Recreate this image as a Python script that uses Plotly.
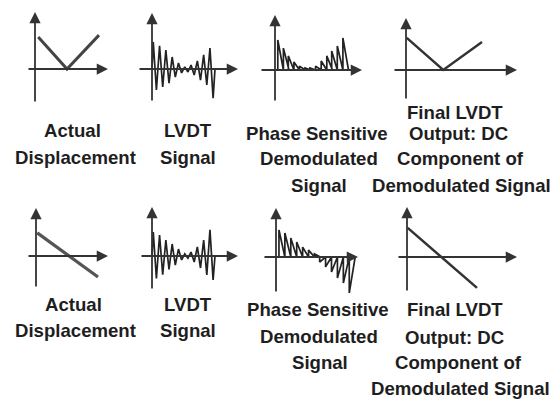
import plotly.graph_objects as go

W, H = 552, 405
SY = 30.0  # pixels per unit of signal amplitude

# ---------------- data ----------------
# Row 1: V-shaped displacement
disp_top_t = [0.05, 0.50, 1.00]
disp_top_v = [1.07, 0.00, 1.13]

lvdt_top_t = [0.02, 0.07, 0.12, 0.17, 0.22, 0.27, 0.32, 0.37, 0.42, 0.47,
              0.52, 0.57, 0.62, 0.67, 0.72, 0.77, 0.82, 0.87, 0.92, 0.97]
lvdt_top_v = [0.90, -0.70, 0.77, -0.60, 0.63, -0.47, 0.40, -0.27, 0.20, -0.13,
              0.07, -0.10, 0.13, -0.20, 0.27, -0.37, 0.47, -0.53, 0.70, -0.97]

demod_top_t = [0.04, 0.12, 0.19, 0.27, 0.35, 0.43, 0.50, 0.58, 0.66, 0.74, 0.81, 0.89, 0.97]
demod_top_v = [1.00, 0.73, 0.47, 0.27, 0.13, 0.07, 0.07, 0.13, 0.30, 0.47, 0.63, 0.80, 1.07]

out_top_t = [0.01, 0.49, 1.00]
out_top_v = [1.07, 0.00, 0.93]

# Row 2: linear displacement through zero
disp_bot_t = [0.02, 1.00]
disp_bot_v = [0.77, -0.70]

lvdt_bot_t = [0.02, 0.07, 0.12, 0.17, 0.22, 0.27, 0.32, 0.37, 0.42, 0.47,
              0.52, 0.57, 0.62, 0.67, 0.72, 0.77, 0.82, 0.87, 0.92, 0.97]
lvdt_bot_v = [0.80, -0.75, 0.70, -0.62, 0.53, -0.45, 0.40, -0.30, 0.23, -0.13,
              0.07, -0.07, 0.13, -0.20, 0.30, -0.40, 0.53, -0.63, 0.87, -0.80]

demod_bot_t = [0.04, 0.12, 0.20, 0.28, 0.36, 0.44, 0.52, 0.59, 0.67, 0.75, 0.83, 0.91, 0.99]
demod_bot_v = [0.90, 0.80, 0.63, 0.50, 0.33, 0.23, 0.10, -0.17, -0.33, -0.50, -0.70, -0.87, -1.20]

out_bot_t = [0.01, 1.00]
out_bot_v = [0.97, -1.03]

top_labels = [["Actual", "Displacement"], ["LVDT", "Signal"],
              ["Phase Sensitive", "Demodulated", "Signal"],
              ["Final LVDT", "Output: DC", "Component of", "Demodulated Signal"]]
bot_labels = top_labels

# ---------------- layout geometry (pixels) ----------------
panels = [
    dict(ox=35, oy=69, xl=27, xr=108, yt=12, yb=103, sx=64),
    dict(ox=152, oy=69, xl=138, xr=238, yt=13, yb=102, sx=63),
    dict(ox=275, oy=70, xl=260, xr=362, yt=15, yb=102, sx=70),
    dict(ox=406, oy=70, xl=393, xr=517, yt=18, yb=100, sx=76),
    dict(ox=36, oy=256, xl=27, xr=108, yt=208, yb=288, sx=62),
    dict(ox=152, oy=256, xl=140, xr=238, yt=207, yb=290, sx=63),
    dict(ox=276, oy=257, xl=263, xr=358, yt=208, yb=293, sx=74),
    dict(ox=407, oy=257, xl=397, xr=517, yt=207, yb=292, sx=70),
]


def sawtooth(t, v):
    xs, ys = [], []
    step = t[1] - t[0]
    for ti, vi in zip(t, v):
        xs += [ti, ti, ti + step]
        ys += [0, vi, 0]
    return xs, ys


def zigzag(t, v):
    return [t[0] - 0.02] + list(t) + [t[-1] + 0.03], [0] + list(v) + [0]


series = [
    (disp_top_t, disp_top_v, "#444", 3),
    (*zigzag(lvdt_top_t, lvdt_top_v), "#222", 1.7),
    (*sawtooth(demod_top_t, demod_top_v), "#222", 1.7),
    (out_top_t, out_top_v, "#333", 2.5),
    (disp_bot_t, disp_bot_v, "#555", 3.2),
    (*zigzag(lvdt_bot_t, lvdt_bot_v), "#222", 1.7),
    (*sawtooth(demod_bot_t, demod_bot_v), "#222", 1.7),
    (out_bot_t, out_bot_v, "#333", 2.5),
]

fig = go.Figure()
layout = dict(width=W, height=H, margin=dict(l=0, r=0, t=0, b=0),
              paper_bgcolor="white", plot_bgcolor="rgba(0,0,0,0)",
              showlegend=False, annotations=[])

for i, p in enumerate(panels):
    n = i + 1
    sfx = "" if n == 1 else str(n)
    xr = [(p["xl"] - p["ox"]) / p["sx"], (p["xr"] - p["ox"]) / p["sx"]]
    yr = [(p["oy"] - p["yb"]) / SY, (p["oy"] - p["yt"]) / SY]
    layout["xaxis" + sfx] = dict(domain=[p["xl"] / W, p["xr"] / W], range=xr,
                                 visible=False, fixedrange=True, anchor="y" + sfx)
    layout["yaxis" + sfx] = dict(domain=[1 - p["yb"] / H, 1 - p["yt"] / H], range=yr,
                                 visible=False, fixedrange=True, anchor="x" + sfx)
    xs, ys, col, w = series[i]
    fig.add_trace(go.Scatter(x=xs, y=ys, mode="lines", line=dict(color=col, width=w),
                             xaxis="x" + sfx, yaxis="y" + sfx, hoverinfo="skip",
                             cliponaxis=False))
    common = dict(xref="x" + sfx, yref="y" + sfx, axref="x" + sfx, ayref="y" + sfx,
                  showarrow=True, arrowhead=2, arrowsize=1.25, arrowwidth=1.8,
                  arrowcolor="#333", text="", standoff=0, startstandoff=0)
    layout["annotations"].append(dict(x=xr[1], y=0, ax=xr[0], ay=0, **common))
    layout["annotations"].append(dict(x=0, y=yr[1], ax=0, ay=yr[0], **common))

label_pos = [
    [(72, 130), (75, 157)],
    [(188, 130), (188, 157)],
    [(317, 134), (319, 158), (319, 185)],
    [(455, 112), (458, 133), (460, 158), (461, 185)],
    [(73, 304), (75, 330)],
    [(188, 304), (188, 330)],
    [(318, 309), (319, 336), (320, 362)],
    [(455, 309), (454, 337), (458, 362), (460, 388)],
]
all_labels = top_labels + bot_labels
for lines, poss in zip(all_labels, label_pos):
    for txt, (cx, cy) in zip(lines, poss):
        layout["annotations"].append(dict(
            x=cx / W, y=1 - cy / H, xref="paper", yref="paper", text=txt,
            showarrow=False, xanchor="center", yanchor="middle",
            font=dict(family="Liberation Sans, Arial", size=18.6, color="#1e1e1e",
                      weight="bold")))

fig.update_layout(**layout)
fig.write_html("out.html", config={"displayModeBar": False, "staticPlot": True},
               post_script="document.body.style.margin='0';"
                           "document.body.style.overflow='hidden';")
